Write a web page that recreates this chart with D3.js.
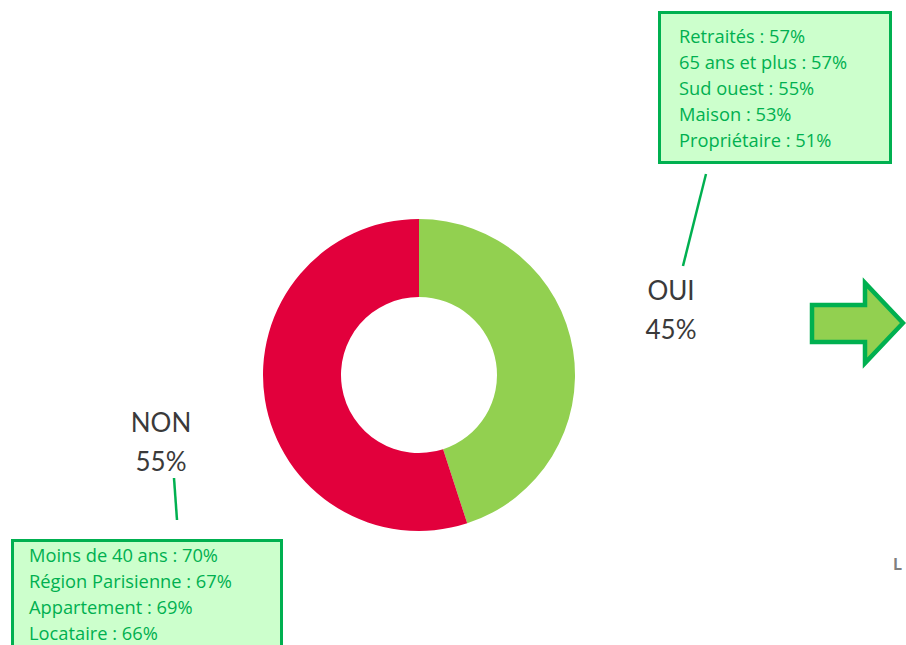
<!DOCTYPE html>
<html lang="fr">
<head>
<meta charset="UTF-8">
<title>OUI / NON</title>
<script src="https://cdn.jsdelivr.net/npm/d3@7"></script>
<style>
  html, body { margin: 0; padding: 0; background: #fff; overflow: hidden; }
  svg { display: block; }
</style>
</head>
<body>
<div id="chart"></div>
<script>
// donnees
const answers = ["OUI", "NON"]
const shares = [45, 55]
const colors = ["#92d050", "#e2003c"]
const ouiDetails = ["Retraités : 57%", "65 ans et plus : 57%", "Sud ouest : 55%", "Maison : 53%", "Propriétaire : 51%"]
const nonDetails = ["Moins de 40 ans : 70%", "Région Parisienne : 67%", "Appartement : 69%", "Locataire : 66%"]

const W = 906, H = 645
const cx = 419, cy = 375, rOut = 156, rIn = 78
const green = "#00b050"
const font = "Lato, 'Open Sans', sans-serif"
const boxFont = "'Open Sans', Lato, sans-serif"

const svg = d3.select("#chart").append("svg").attr("width", W).attr("height", H)

// donut
const pie = d3.pie().sort(null).value(d => d)
const arc = d3.arc().innerRadius(rIn).outerRadius(rOut)
svg.append("g").attr("transform", `translate(${cx},${cy})`)
  .selectAll("path").data(pie(shares)).join("path")
  .attr("d", arc).attr("fill", (d, i) => colors[i])

// etiquettes
const labelPos = [[671, 300], [161, 432]]
answers.forEach((a, i) => {
  const t = svg.append("text").attr("x", labelPos[i][0]).attr("y", labelPos[i][1])
    .attr("text-anchor", "middle").attr("font-family", font).attr("font-size", 26).attr("fill", "#3a3a3a")
  t.append("tspan").attr("x", labelPos[i][0]).text(a)
  t.append("tspan").attr("x", labelPos[i][0]).attr("dy", 39).text(shares[i] + "%")
})

// traits de rappel
svg.append("line").attr("x1", 706).attr("y1", 174).attr("x2", 683).attr("y2", 266)
  .attr("stroke", green).attr("stroke-width", 2.5)
svg.append("line").attr("x1", 174).attr("y1", 478).attr("x2", 177).attr("y2", 520)
  .attr("stroke", green).attr("stroke-width", 2.5)

// encadres
function box(x, y, w, h, lines, tx, ty) {
  svg.append("rect").attr("x", x).attr("y", y).attr("width", w).attr("height", h)
    .attr("fill", "#ccffcc").attr("stroke", green).attr("stroke-width", 3)
  svg.append("g").selectAll("text").data(lines).join("text")
    .attr("x", tx).attr("y", (d, i) => ty + i * 26)
    .attr("font-family", boxFont).attr("font-size", 18.3).attr("fill", green)
    .text(d => d)
}
box(659.5, 12.5, 231, 150, ouiDetails, 679, 43)
box(12.5, 540.5, 269, 120, nonDetails, 29, 562)

// fleche
const arrow = [[812, 305], [865, 305], [865, 283], [903, 323], [865, 363], [865, 342], [812, 342]]
svg.append("path").attr("d", d3.line()(arrow) + "Z")
  .attr("fill", "#92d050").attr("stroke", green).attr("stroke-width", 4.5).attr("stroke-linejoin", "miter")

// texte coupe a droite
svg.append("text").attr("x", 893).attr("y", 570).attr("font-family", font)
  .attr("font-size", 17).attr("font-weight", "bold").attr("fill", "#7f7f7f").text("L")
</script>
</body>
</html>
